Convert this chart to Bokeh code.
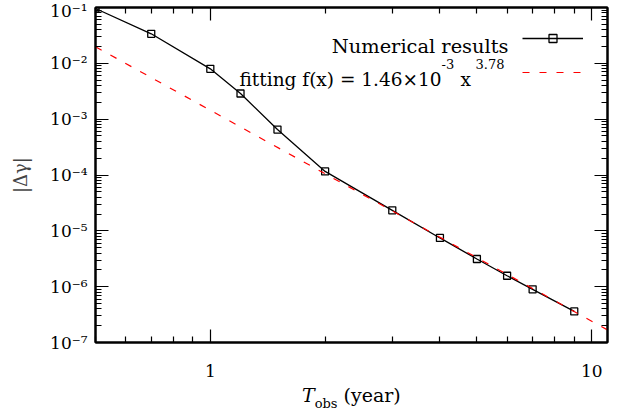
import numpy as np
from bokeh.plotting import figure
from bokeh.layouts import column
from bokeh.models import (Range1d, LogAxis, FixedTicker, CustomJSTickFormatter,
                          Label, Legend, LegendItem, Div)
from bokeh.embed import file_html
from bokeh.resources import INLINE

# ---- data ----
t_obs = [0.5, 0.7, 1.0, 1.2, 1.5, 2.0, 3.0, 4.0, 5.0, 6.0, 7.0, 9.0]
delta_gamma = [9.6e-2, 3.38e-2, 7.96e-3, 2.88e-3, 6.52e-4, 1.16e-4,
               2.33e-5, 7.46e-6, 3.13e-6, 1.57e-6, 8.96e-7, 3.6e-7]
fit_x = [0.5, 11.0]
fit_y = [1.98e-2, 1.68e-7]

x_major = [1, 10]
x_labels = ["1", "10"]
x_minor = [0.5, 0.6, 0.7, 0.8, 0.9, 2, 3, 4, 5, 6, 7, 8, 9]
y_major = [1e-7, 1e-6, 1e-5, 1e-4, 1e-3, 1e-2, 1e-1]
y_labels = ["10⁻⁷", "10⁻⁶", "10⁻⁵", "10⁻⁴", "10⁻³", "10⁻²", "10⁻¹"]
y_minor = [m * 10.0 ** e for e in range(-7, -1) for m in range(2, 10)]

legend_main = "Numerical results"
legend_fit = "fitting f(x) = 1.46×10"
legend_fit_exp1 = "-3"
legend_fit_x = "x"
legend_fit_exp2 = "3.78"
xlabel_T = "T"
xlabel_sub = "obs"
xlabel_unit = "(year)"
ylabel = "|Δγ|"

FONT = "DejaVu Serif"
X0, X1 = 0.5, 11.0
Y0, Y1 = 1e-7, 1e-1

W, H = 636, 387
DIV_H = 415 - H
BL, BR, BT, BB = 95, 29, 7, 45
FW, FH = W - BL - BR, H - BT - BB


def x_at(px):
    # canvas pixel -> data x (log scale), for text placement
    lx0, lx1 = np.log10(X0), np.log10(X1)
    return float(10 ** (lx0 + (px - BL) * (lx1 - lx0) / FW))


def y_at(py):
    ly0, ly1 = np.log10(Y0), np.log10(Y1)
    return float(10 ** (ly1 - (py - BT) * (ly1 - ly0) / FH))


p = figure(width=W, height=H, x_axis_type="log", y_axis_type="log",
           x_range=Range1d(X0, X1), y_range=Range1d(Y0, Y1),
           output_backend="svg", toolbar_location=None,
           min_border_left=BL, min_border_right=BR,
           min_border_top=BT, min_border_bottom=BB, margin=0)
p.background_fill_color = "white"
p.border_fill_color = "white"
p.outline_line_color = "black"
p.outline_line_width = 2
p.xgrid.visible = False
p.ygrid.visible = False

xb = p.xaxis[0]
yl = p.yaxis[0]

JS_PICK = """
let best = 0, bd = Infinity;
for (let i = 0; i < vals.length; i++) {
  const d = Math.abs(Math.log10(vals[i]) - Math.log10(tick));
  if (d < bd) { bd = d; best = i; }
}
return labs[best];
"""
ylab_fmt = CustomJSTickFormatter(args=dict(vals=y_major, labs=y_labels), code=JS_PICK)
xlab_fmt = CustomJSTickFormatter(args=dict(vals=x_major, labs=x_labels), code=JS_PICK)


def style(ax, major, minor):
    ax.ticker = FixedTicker(ticks=major, minor_ticks=minor)
    ax.axis_line_color = "black"
    ax.axis_line_width = 2
    ax.major_tick_in = 13
    ax.major_tick_out = 0
    ax.minor_tick_in = 6
    ax.minor_tick_out = 0
    ax.major_tick_line_color = "black"
    ax.minor_tick_line_color = "black"
    ax.major_tick_line_width = 1.2
    ax.minor_tick_line_width = 1.2
    ax.major_label_text_font = FONT
    ax.major_label_text_color = "black"


style(xb, x_major, x_minor)
style(yl, y_major, y_minor)
xb.formatter = xlab_fmt
yl.formatter = ylab_fmt
xb.major_label_text_font_size = "17px"
yl.major_label_text_font_size = "17px"
xb.major_label_standoff = 22
yl.major_label_standoff = 8
yl.axis_label = ylabel
yl.axis_label_text_font = FONT
yl.axis_label_text_font_style = "normal"
yl.axis_label_text_font_size = "18px"
yl.axis_label_standoff = 16

xt = LogAxis()
yr = LogAxis()
style(xt, x_major, x_minor)
style(yr, y_major, y_minor)
for ax in (xt, yr):
    ax.major_label_text_font_size = "1px"
    ax.major_label_text_color = None
    ax.major_label_standoff = 0
p.add_layout(xt, "above")
p.add_layout(yr, "right")

r_line = p.line(t_obs, delta_gamma, line_color="black", line_width=1.3)
r_pts = p.scatter(t_obs, delta_gamma, marker="square", size=7,
                  fill_color=None, line_color="black", line_width=1.3)
r_fit = p.line(fit_x, fit_y, line_color="#ff0000", line_width=1.2,
               line_dash="7 10")

# legend samples (gnuplot style: text left, sample right)
leg = Legend(items=[LegendItem(label="-", renderers=[r_line, r_pts]),
                    LegendItem(label="-", renderers=[r_fit])],
             location=(427, (BT + FH) - 81.7),
             glyph_width=61, glyph_height=20, label_width=0, label_height=20,
             label_standoff=0, padding=0, margin=0, spacing=14,
             border_line_color=None, background_fill_alpha=0,
             label_text_font_size="2px", label_text_color=None)
p.add_layout(leg)


def lab(text, px, py, size, align="left", style="normal"):
    p.add_layout(Label(x=x_at(px), y=y_at(py), text=text, text_align=align,
                       text_baseline="alphabetic", text_font=FONT,
                       text_font_size=size, text_font_style=style,
                       text_color="black"))


lab(legend_main, 508, 45.5, "19.4px", align="right")
lab(legend_fit, 441, 79, "18.5px", align="right")
lab(legend_fit_exp1, 441, 63, "13px")
lab(legend_fit_x, 460, 79, "18.5px")
lab(legend_fit_exp2, 475, 63, "13px")

# x-axis title with italic T and subscript, as real text below the plot
xlabel_html = (
    '<div style="margin:0;padding:0 0 0 302px;font-family:\'DejaVu Serif\';'
    'font-size:19px;line-height:16px;white-space:nowrap;color:black;">'
    f'<i>{xlabel_T}</i><span style="font-size:13px;vertical-align:-6px;">'
    f'{xlabel_sub}</span> {xlabel_unit}</div>'
)
xdiv = Div(text=xlabel_html, width=W, height=DIV_H, margin=0)

layout = column(p, xdiv, spacing=0, margin=0)
open("out.html", "w").write(file_html(layout, INLINE))
